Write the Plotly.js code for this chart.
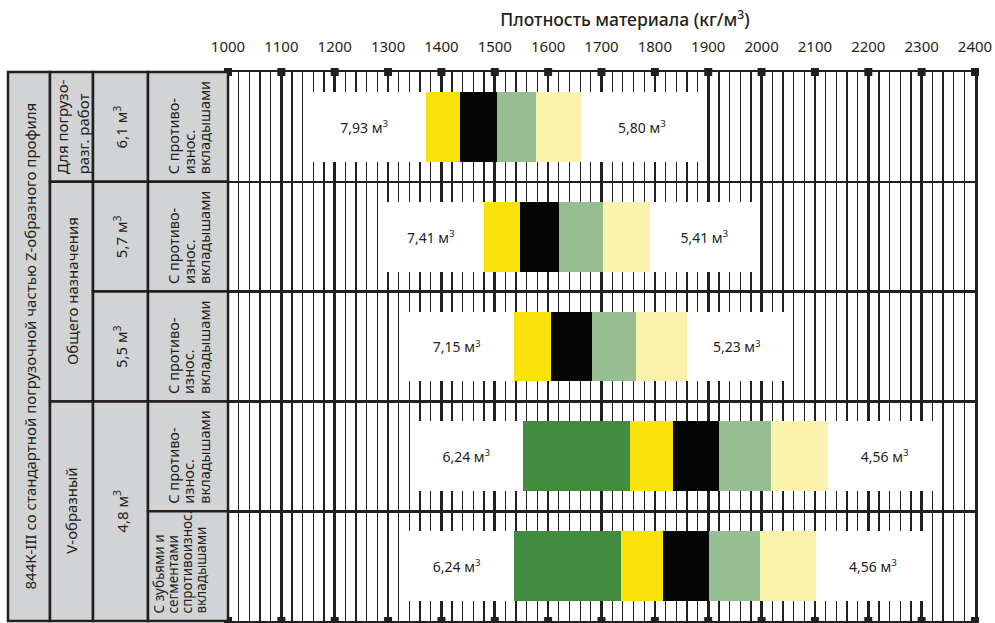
<!DOCTYPE html>
<html>
<head>
<meta charset="utf-8">
<script src="https://cdn.plot.ly/plotly-3.0.1.min.js"></script>
<style>html,body{margin:0;padding:0;background:#fff;}#chart{width:995px;height:623px;}</style>
</head>
<body>
<div id="chart"></div>
<script>
// ---- data (kg/m3 positions) ----
var rowCenters      = [0.5, 1.5, 2.5, 3.5, 4.5];
var boxStart        = [1140, 1281, 1322, 1341, 1322];
var darkGreenStart  = [null, null, null, 1553, 1536];
var yellowStart     = [1371, 1480, 1536, 1753, 1737];
var blackStart      = [1435, 1547, 1605, 1834, 1815];
var lightGreenStart = [1504, 1620, 1682, 1920, 1901];
var creamStart      = [1577, 1703, 1765, 2018, 1997];
var barEnd          = [1662, 1791, 1860, 2124, 2102];
var boxEnd          = [1890, 1995, 2048, 2338, 2316];
var leftLabels      = ['7,93', '7,41', '7,15', '6,24', '6,24'];
var rightLabels     = ['5,80', '5,41', '5,23', '4,56', '4,56'];
var tickVals        = [1000,1100,1200,1300,1400,1500,1600,1700,1800,1900,2000,2100,2200,2300,2400];

var colMachine = '844К-III со стандартной погрузочной частью Z-образного профиля';
var colType    = [['Для погрузо-', 'разг. работ'], 'Общего назначения', 'V-образный'];
var colVolume  = ['6,1 м<sup>3</sup>', '5,7 м<sup>3</sup>', '5,5 м<sup>3</sup>', '4,8 м<sup>3</sup>'];
var teethA     = ['С противо-', 'износ.', 'вкладышами'];
var teethB     = ['С зубьями и', 'сегментами', 'спротивоизнос.', 'вкладышами'];
var colTeeth   = [teethA, teethA, teethA, teethA, teethB];

// ---- style ----
var INK = '#231f20', GRAY = '#d1d3d4';
var FONT = 'Noto Sans, Open Sans, sans-serif';
var W = 995, H = 623, L = 228, R = 20, T = 72, B = 2;
var plotW = W - L - R, plotH = H - T - B;
var BARW = 0.636;

function seg(start, end) {
  return start.map(function (s, i) {
    var e = end[i];
    return (s == null || e == null) ? null : e - s;
  });
}
var firstColor = darkGreenStart.map(function (d, i) { return d != null ? d : yellowStart[i]; });

function barTrace(base, width, color, text) {
  var t = {
    type: 'bar', orientation: 'h', y: rowCenters, base: base, x: width,
    width: BARW, marker: { color: color, line: { width: 0 } },
    hoverinfo: 'skip', showlegend: false
  };
  if (text) {
    t.text = text.map(function (s) { return s + ' м<sup>3</sup>'; });
    t.textposition = 'inside';
    t.insidetextanchor = 'middle';
    t.textangle = 0;
    t.textfont = { family: FONT, size: 14, color: INK };
  }
  return t;
}

var traces = [
  barTrace(boxStart, seg(boxStart, firstColor), '#ffffff', leftLabels),
  barTrace(darkGreenStart, seg(darkGreenStart, yellowStart), '#428c40'),
  barTrace(yellowStart, seg(yellowStart, blackStart), '#f9e20c'),
  barTrace(blackStart, seg(blackStart, lightGreenStart), '#050505'),
  barTrace(lightGreenStart, seg(lightGreenStart, creamStart), '#97bd92'),
  barTrace(creamStart, seg(creamStart, barEnd), '#fbf3ad'),
  barTrace(barEnd, seg(barEnd, boxEnd), '#ffffff', rightLabels),
  {
    type: 'scatter', mode: 'markers',
    x: tickVals.concat(tickVals),
    y: tickVals.map(function () { return 0; }).concat(tickVals.map(function () { return 5; })),
    marker: { symbol: 'square', size: 8, color: INK },
    cliponaxis: false, hoverinfo: 'skip', showlegend: false
  }
];

// ---- left table (shapes + rotated annotations) ----
var colEdges = [8, 50, 93, 148, 228];
function px(xp) { return (xp - L) / plotW; }
function ry(r) { return 1 - r / 5; }
var shapes = [], annotations = [], bottomTargets = [];
function box(c, r0, r1) {
  shapes.push({
    type: 'rect', xref: 'paper', yref: 'paper',
    x0: px(colEdges[c]), x1: px(colEdges[c + 1]), y0: ry(r0), y1: ry(r1),
    fillcolor: GRAY, line: { color: INK, width: 2.5 }, layer: 'above'
  });
}
function cell(c, r0, r1, text, size) {
  box(c, r0, r1);
  annotations.push({
    xref: 'paper', yref: 'paper', showarrow: false,
    x: px((colEdges[c] + colEdges[c + 1]) / 2), y: (ry(r0) + ry(r1)) / 2,
    xanchor: 'center', yanchor: 'middle', textangle: -90,
    text: text, font: { family: FONT, size: size, color: INK }
  });
}
// multi-line cell: each line drawn separately, starting from the cell bottom
function cellLines(c, r0, r1, lines, firstX, step, bottomPad, size) {
  box(c, r0, r1);
  var bottomPx = T + (r1 / 5) * plotH - bottomPad;
  lines.forEach(function (line, k) {
    bottomTargets.push({ index: annotations.length, bottomPx: bottomPx });
    annotations.push({
      xref: 'paper', yref: 'paper', showarrow: false,
      x: px(firstX + k * step), y: (ry(r0) + ry(r1)) / 2,
      xanchor: 'center', yanchor: 'middle', textangle: -90,
      text: line, font: { family: FONT, size: size, color: INK }
    });
  });
}
cell(0, 0, 5, colMachine, 15);
cellLines(1, 0, 1, colType[0], 62, 21, 6, 15);
cell(1, 1, 3, colType[1], 15);
cell(1, 3, 5, colType[2], 15);
cell(2, 0, 1, colVolume[0], 15);
cell(2, 1, 2, colVolume[1], 15);
cell(2, 2, 3, colVolume[2], 15);
cell(2, 3, 5, colVolume[3], 15);
for (var i = 0; i < 4; i++) cellLines(3, i, i + 1, colTeeth[i], 173, 15.5, 6, 14.5);
cellLines(3, 4, 5, colTeeth[4], 158, 14, 6, 13.5);

var layout = {
  width: W, height: H,
  margin: { l: L, r: R, t: T, b: B, pad: 0 },
  paper_bgcolor: '#ffffff', plot_bgcolor: '#ffffff',
  barmode: 'overlay', bargap: 0,
  title: {
    text: 'Плотность материала (кг/м<sup>3</sup>)',
    x: 625 / W, xref: 'container', xanchor: 'center',
    y: 1 - 20 / H, yref: 'container', yanchor: 'middle',
    font: { family: FONT, size: 17.5, color: INK, weight: 500 }
  },
  xaxis: {
    side: 'top', range: [1000, 2400], tickmode: 'array', tickvals: tickVals,
    ticks: '', ticklabelstandoff: 12,
    tickfont: { family: FONT, size: 15, color: INK },
    showgrid: true, gridcolor: INK, gridwidth: 2.6,
    minor: { dtick: 20, tick0: 1000, showgrid: true, gridcolor: INK, gridwidth: 1.3, ticks: '' },
    showline: true, mirror: true, linecolor: INK, linewidth: 2.5,
    zeroline: false, fixedrange: true
  },
  yaxis: {
    range: [5, 0], tick0: 0, dtick: 1, showticklabels: false, ticks: '',
    showgrid: true, gridcolor: INK, gridwidth: 2.6,
    showline: true, mirror: true, linecolor: INK, linewidth: 2.5,
    zeroline: false, fixedrange: true
  },
  shapes: shapes,
  annotations: annotations,
  showlegend: false
};

var gd = document.getElementById('chart');
Plotly.newPlot(gd, traces, layout, { displayModeBar: false, staticPlot: true }).then(function () {
  // align the rotated multi-line texts so each line starts at the bottom of its cell
  var top = gd.getBoundingClientRect().top;
  var update = {};
  bottomTargets.forEach(function (t) {
    var el = gd.querySelector('.annotation[data-index="' + t.index + '"] .annotation-text-g');
    if (!el) return;
    var r = el.getBoundingClientRect();
    var curCenter = (r.top + r.bottom) / 2 - top;
    var wantCenter = t.bottomPx - r.height / 2;
    var dy = wantCenter - curCenter;
    update['annotations[' + t.index + '].y'] = annotations[t.index].y - dy / plotH;
  });
  return Plotly.relayout(gd, update);
});
</script>
</body>
</html>
